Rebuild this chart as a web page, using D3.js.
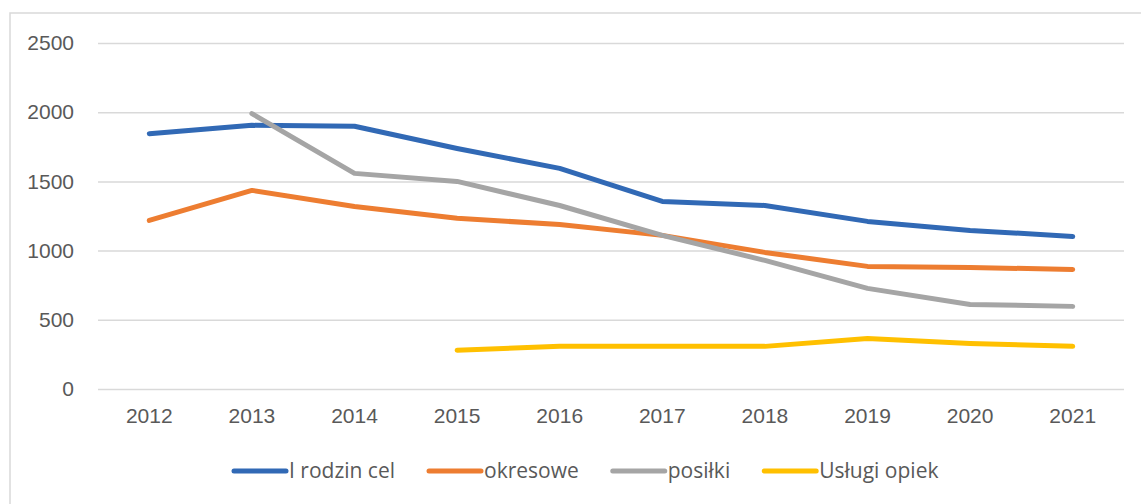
<!DOCTYPE html>
<html>
<head>
<meta charset="utf-8">
<script src="https://cdn.jsdelivr.net/npm/d3@7"></script>
<style>
  html, body { margin: 0; padding: 0; background: #fff; }
  svg { display: block; font-family: "Open Sans", "Liberation Sans", Arial, sans-serif; }
</style>
</head>
<body>
<svg id="chart" width="1141" height="504"></svg>
<script>
const years = ["2012", "2013", "2014", "2015", "2016", "2017", "2018", "2019", "2020", "2021"]
const yTicks = [0, 500, 1000, 1500, 2000, 2500]

const rodzinCel = [1845, 1905, 1898, 1738, 1594, 1355, 1326, 1211, 1146, 1102]
const okresowe = [1218, 1435, 1319, 1233, 1189, 1110, 987, 886, 878, 864]
const posilki = [null, 1990, 1558, 1500, 1326, 1110, 929, 727, 611, 597]
const uslugiOpiek = [null, null, null, 280, 308, 308, 308, 365, 329, 308]

const seriesNames = ["I rodzin cel", "okresowe", "posiłki", "Usługi opiek"]
const seriesColors = ["#3169b5", "#ed7d31", "#a5a5a5", "#ffc000"]
const seriesValues = [rodzinCel, okresowe, posilki, uslugiOpiek]

const svg = d3.select("#chart")
const width = 1141
const m = {top: 43, right: 17, bottom: 115, left: 98}
const iw = width - m.left - m.right
const ih = 504 - m.top - m.bottom

// chart area frame (right and bottom edges fall outside the picture)
svg.append("rect")
  .attr("x", 10).attr("y", 13)
  .attr("width", 1160).attr("height", 520)
  .attr("fill", "none")
  .attr("stroke", "#d9d9d9")
  .attr("stroke-width", 1.5)

const x = d3.scaleBand().domain(years).range([0, iw])
const y = d3.scaleLinear().domain([0, 2500]).range([ih, 0])

const g = svg.append("g").attr("transform", `translate(${m.left},${m.top})`)

g.append("g")
  .call(d3.axisLeft(y).tickValues(yTicks).tickFormat(d3.format("d")).tickSize(-iw).tickPadding(24))
  .call((gg) => gg.select(".domain").remove())
  .call((gg) => gg.selectAll("line").attr("stroke", "#d9d9d9").attr("stroke-width", 1.5))
  .call((gg) => gg.selectAll("text").attr("font-size", 21).attr("fill", "#595959"))

g.append("g")
  .attr("transform", `translate(0,${ih})`)
  .call(d3.axisBottom(x).tickSize(0).tickPadding(19))
  .call((gg) => gg.select(".domain").remove())
  .call((gg) => gg.selectAll("text").attr("font-size", 21).attr("fill", "#595959"))

const line = d3.line()
  .defined((d) => d != null)
  .x((d, i) => x(years[i]) + x.bandwidth() / 2)
  .y((d) => y(d))

g.append("g")
  .selectAll("path")
  .data(seriesValues)
  .join("path")
  .attr("d", (d) => line(d))
  .attr("fill", "none")
  .attr("stroke", (d, i) => seriesColors[i])
  .attr("stroke-width", 5)
  .attr("stroke-linecap", "round")
  .attr("stroke-linejoin", "round")

// legend
const legend = svg.append("g").attr("transform", "translate(232,471)")
let lx = 0
seriesNames.forEach((name, i) => {
  const item = legend.append("g").attr("transform", `translate(${lx},0)`)
  item.append("line")
    .attr("x1", 2).attr("x2", 54)
    .attr("y1", 0).attr("y2", 0)
    .attr("stroke", seriesColors[i])
    .attr("stroke-width", 5)
    .attr("stroke-linecap", "round")
  const t = item.append("text")
    .attr("x", 57).attr("y", 0)
    .attr("dy", "0.35em")
    .attr("font-size", 21)
    .attr("fill", "#595959")
    .text(name)
  lx += 57 + t.node().getComputedTextLength() + 32
})
</script>
</body>
</html>
